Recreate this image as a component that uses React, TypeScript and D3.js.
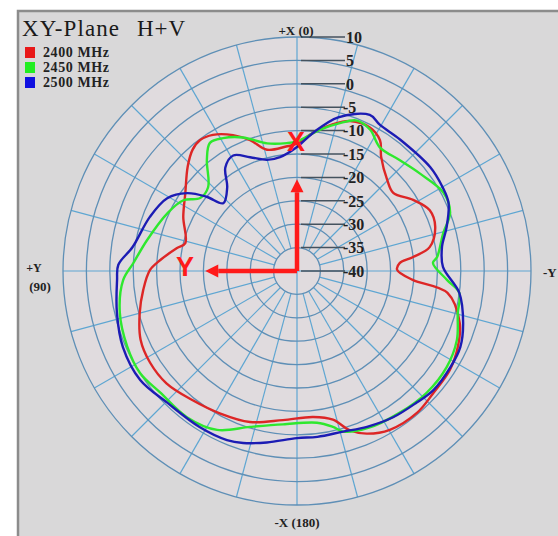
import React from "react";
import * as d3 from "d3";

// Azimuth in degrees, counter-clockwise from +X (0) toward +Y (90); gain in dBi
const angles2400 = [0, 5, 13.9, 19.7, 25.2, 31.7, 36.5, 40.7, 46.3, 55.1, 64.6, 76, 79.2, 85.4, 89.6, 97, 105, 113.7, 122, 130.7, 141.1, 151.5, 162.7, 174.6, 186.3, 193.6, 198.4, 203.2, 210.3, 220.2, 228.1, 237.1, 244.7, 252.3, 261.7, 265.6, 270.6, 274.4, 276.9, 280.2, 287.7, 294.6, 301.5, 309.1, 315.3, 323.6, 327.6, 333.1, 340.5, 346.2, 353.4];
const gain2400 = [-12.8, -13.3, -13.3, -10.3, -7.9, -5.8, -5.2, -5.8, -7.7, -10.9, -13.1, -15.4, -13.9, -10.7, -8.6, -6.9, -5.2, -3.5, -3.0, -3.2, -4.5, -5.4, -6.2, -8.0, -8.6, -7.3, -4.1, -2.2, -0.7, -0.3, -0.9, -1.1, -2.0, -3.5, -7.5, -15.2, -18.6, -18.0, -15.0, -11.2, -9.0, -8.8, -10.9, -13.5, -12.6, -9.7, -6.9, -5.6, -6.0, -7.7, -10.3];

const angles2450 = [0, 4.5, 13.2, 22.1, 29.1, 34.2, 39, 46.7, 53, 58.1, 65.9, 78.3, 87.2, 93, 103.3, 114, 123, 131.7, 143, 153.3, 163.2, 174.8, 187.5, 193, 196, 204.1, 216, 226.8, 237.4, 246.7, 255.4, 262.3, 266.6, 273.4, 275.7, 284.6, 290.8, 298.1, 308.5, 317.1, 326.2, 332.6, 338.3, 343.8, 350.7];
const gain2450 = [-12.3, -12.6, -12.0, -9.2, -7.5, -6.9, -9.4, -13.9, -14.1, -11.4, -9.7, -7.3, -5.0, -2.8, -1.1, -0.3, 0.0, -0.9, -0.9, -2.0, -5.2, -7.1, -7.3, -5.8, -4.3, -3.2, -2.6, -2.0, -2.0, -2.8, -4.5, -5.0, -7.9, -10.9, -9.9, -7.7, -5.0, -4.5, -6.5, -7.7, -8.2, -6.0, -5.4, -7.1, -9.4];

const angles2500 = [0, 8.5, 15.1, 22.4, 28.9, 34.7, 39.8, 47.4, 50.6, 54.7, 60.7, 69.8, 81.7, 88, 92.9, 103, 113.6, 124.8, 135.4, 148, 157.5, 162.6, 170, 180, 187, 196, 204.2, 213.3, 222.3, 229, 238, 245, 252.6, 262.3, 271.6, 279.4, 286.3, 294.2, 300, 308, 321.8, 330.4, 335, 345, 353.4];
const gain2500 = [-13.5, -15.4, -15.4, -13.7, -11.8, -13.1, -16.7, -18.6, -15.0, -11.2, -8.2, -6.5, -4.5, -1.8, -1.5, -0.5, 0.6, 0.8, -0.5, -0.7, -0.9, -1.5, -2.8, -4.3, -4.3, -4.3, -3.5, -2.6, -2.0, -1.3, -1.3, -1.5, -2.8, -5.0, -8.8, -8.6, -6.7, -4.5, -4.1, -3.9, -4.3, -4.1, -3.2, -6.0, -10.3];

const ringValues = [10, 5, 0, -5, -10, -15, -20, -25, -30, -35, -40];
const seriesNames = ["2400 MHz", "2450 MHz", "2500 MHz"];
const seriesColors = ["#dd2626", "#2ee82e", "#1c1cb4"];
const legendColors = ["#e81818", "#22ee22", "#1010e0"];

const W = 558;
const H = 536;
const cx = 297;
const cy = 271;
const R = 234;

const r = d3.scaleLinear().domain([-40, 10]).range([0, R]);

type Pt = [number, number];

const series: Pt[][] = [
  angles2400.map((a, i) => [a, gain2400[i]] as Pt),
  angles2450.map((a, i) => [a, gain2450[i]] as Pt),
  angles2500.map((a, i) => [a, gain2500[i]] as Pt),
];

const lineGen = d3
  .lineRadial<Pt>()
  .angle((d) => (-d[0] * Math.PI) / 180)
  .radius((d) => r(d[1]))
  .curve(d3.curveCatmullRomClosed.alpha(0.5));

const spokes = d3.range(0, 360, 15);
const serif = "'Liberation Serif', 'Times New Roman', serif";

export default function App() {
  const arrowLen = r(-20.4);
  const head = 13;
  return (
    <svg
      width={W}
      height={H}
      style={{ position: "absolute", left: 0, top: 0, display: "block" }}
    >
      <rect x={0} y={0} width={W} height={H} fill="#ffffff" />
      <rect x={18} y={11} width={560} height={540} fill="#d9d8d9" stroke="#8c8c8c" strokeWidth={2.5} />

      <g transform={`translate(${cx},${cy})`}>
        <circle r={R} fill="#e0dbde" />
        {spokes.map((a) => {
          const inner = a % 90 === 0 ? 0 : r(-35);
          const t = (a * Math.PI) / 180;
          return (
            <line
              key={a}
              x1={-inner * Math.sin(t)}
              y1={-inner * Math.cos(t)}
              x2={-R * Math.sin(t)}
              y2={-R * Math.cos(t)}
              stroke="#5ea6d2"
              strokeWidth={1.2}
            />
          );
        })}
        {ringValues
          .filter((v) => v > -40)
          .map((v) => (
            <circle key={v} r={r(v)} fill="none" stroke="#5e8fb6" strokeWidth={1.3} />
          ))}
        {ringValues.map((v) => (
          <line
            key={`l${v}`}
            x1={4}
            x2={48}
            y1={-r(v)}
            y2={-r(v)}
            stroke="#45525e"
            strokeWidth={1.5}
          />
        ))}
        {ringValues.map((v) => (
          <text
            key={`t${v}`}
            x={v < 0 ? 46 : 49}
            y={-r(v)}
            dy="0.36em"
            fontFamily={serif}
            fontWeight="bold"
            fontSize={16}
            fill="#222"
          >
            {v < 0 ? `-${-v}` : `${v}`}
          </text>
        ))}

        {series.map((pts, i) => (
          <path
            key={seriesNames[i]}
            d={lineGen(pts) ?? ""}
            fill="none"
            stroke={seriesColors[i]}
            strokeWidth={2.4}
            strokeLinejoin="round"
          />
        ))}

        {/* orientation arrows */}
        <line x1={0} y1={0} x2={0} y2={-arrowLen + head} stroke="#ff1a1a" strokeWidth={4.5} />
        <path d={`M0,${-arrowLen} L${-6.5},${-arrowLen + head} L6.5,${-arrowLen + head} Z`} fill="#ff1a1a" />
        <line x1={0} y1={0} x2={-arrowLen + head} y2={0} stroke="#ff1a1a" strokeWidth={4.5} />
        <path d={`M${-arrowLen},0 L${-arrowLen + head},-6.5 L${-arrowLen + head},6.5 Z`} fill="#ff1a1a" />
      </g>

      <text x={296} y={151} textAnchor="middle" fontFamily="'Liberation Sans', Arial, sans-serif" fontWeight="bold" fontSize={27} fill="#ff1a1a">
        X
      </text>
      <text x={185} y={276} textAnchor="middle" fontFamily="'Liberation Sans', Arial, sans-serif" fontWeight="bold" fontSize={27} fill="#ff1a1a">
        Y
      </text>

      {/* title and legend */}
      <text x={22} y={36} fontFamily={serif} fontSize={23} fill="#1a1a1a" textLength={97}>
        XY-Plane
      </text>
      <text x={137} y={36} fontFamily={serif} fontSize={23} fill="#1a1a1a" textLength={48}>
        H+V
      </text>
      {seriesNames.map((name, i) => (
        <g key={name}>
          <rect x={25} y={47 + i * 15} width={10} height={11} fill={legendColors[i]} />
          <text x={43} y={56.5 + i * 15} fontFamily={serif} fontWeight="bold" fontSize={14} fill="#222" textLength={66}>
            {name}
          </text>
        </g>
      ))}

      {/* axis direction labels */}
      <text x={296} y={35} textAnchor="middle" fontFamily={serif} fontWeight="bold" fontSize={13} fill="#222">
        +X (0)
      </text>
      <text x={297} y={527} textAnchor="middle" fontFamily={serif} fontWeight="bold" fontSize={13} fill="#222">
        -X (180)
      </text>
      <text x={34} y={272} textAnchor="middle" fontFamily={serif} fontWeight="bold" fontSize={12} fill="#222">
        +Y
      </text>
      <text x={40} y={291} textAnchor="middle" fontFamily={serif} fontWeight="bold" fontSize={13} fill="#222">
        (90)
      </text>
      <text x={543} y={277} fontFamily={serif} fontWeight="bold" fontSize={13} fill="#222">
        -Y
      </text>
    </svg>
  );
}
